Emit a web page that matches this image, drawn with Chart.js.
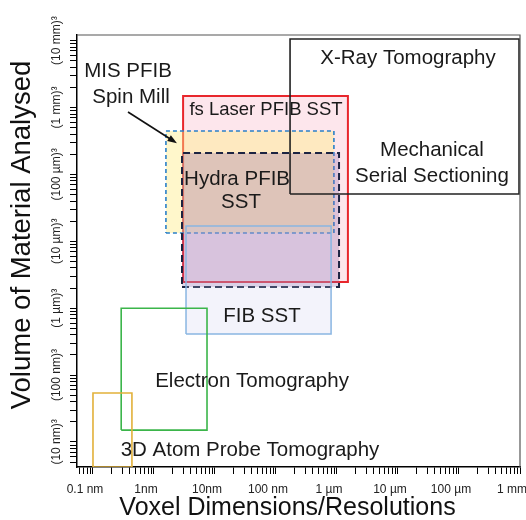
<!DOCTYPE html>
<html>
<head>
<meta charset="utf-8">
<script src="https://cdn.jsdelivr.net/npm/chart.js@4.4.0/dist/chart.umd.min.js"></script>
<style>
  html, body { margin: 0; padding: 0; background: #fff; }
  #wrap { width: 526px; height: 520px; }
</style>
</head>
<body>
<div id="wrap"><canvas id="grafico" width="526" height="520"></canvas></div>
<script>
// --- DATA (voxel size in µm, analysed volume in µm³) ---
const tecnicas  = ['fs Laser PFIB SST', 'MIS PFIB Spin Mill', 'Hydra PFIB SST', 'FIB SST',
                   'Electron Tomography', '3D Atom Probe Tomography', 'X-Ray Tomography / Mechanical Serial Sectioning'];
const voxelMin  = [3.0e-3, 1.57e-3, 2.88e-3, 3.35e-3, 2.9e-4, 1.0e-4, 0.17];
const voxelMax  = [1.51, 0.89, 1.08, 0.80, 7.4e-3, 4.35e-4, 964];
const volumeMin = [15, 2.35e3, 8.9, 0.069, 3.4e-6, 7.52e-8, 1.32e5];
const volumeMax = [3.3e9, 8.9e7, 9.1e6, 4.9e3, 1.0, 1.58e-4, 1.18e12];

// axis ticks
const xTickValues  = [1e-4, 1e-3, 1e-2, 0.1, 1, 10, 100, 1000];
const xTickLabels  = ['0.1 nm', '1nm', '10nm', '100 nm', '1 µm', '10 µm', '100 µm', '1 mm'];
const yTickLengths = [0.01, 0.1, 1, 10, 100, 1000, 10000];   // edge length, µm -> volume = L³
const yTickLabels  = ['(10 nm)³', '(100 nm)³', '(1 µm)³', '(10 µm)³', '(100 µm)³', '(1 mm)³', '(10 mm)³'];

// axis range
const xRange = [5.47e-5, 1000];
const yRange = [7.52e-8, 1.79e12];

// --- STYLES ---
const bordas  = ['#e8262c', '#2a80c8', '#1c2442', '#8ab6e2', '#3bb54a', '#e2b13a', '#222222'];
const fundos  = ['rgba(250,200,212,0.45)', 'rgba(255,236,130,0.42)', 'rgba(140,100,170,0.28)',
                 'rgba(200,200,235,0.22)', null, null, null];
const tracos  = [[], [4, 3], [7, 4], [], [], [], []];
const larguras = [2, 1.6, 2, 1.5, 1.6, 1.6, 1.6];

// text labels, anchored in data coordinates
const rotulos = [
  { t: 'X-Ray Tomography', x: 14.6, y: 1.66e11 },
  { t: 'Mechanical', x: 36, y: 1.25e7 },
  { t: 'Serial Sectioning', x: 36, y: 8.5e5 },
  { t: 'fs Laser PFIB SST', x: 0.0686, y: 7.7e8, small: true },
  { t: 'MIS PFIB', x: 3.75e-4, y: 4.3e10 },
  { t: 'Spin Mill', x: 4.2e-4, y: 3.0e9 },
  { t: 'Hydra PFIB', x: 0.023, y: 6.2e5 },
  { t: 'SST', x: 0.0267, y: 5.8e4 },
  { t: 'FIB SST', x: 0.0589, y: 0.445 },
  { t: 'Electron Tomography', x: 0.0405, y: 5.4e-4 },
  { t: '3D Atom Probe Tomography', x: 0.0375, y: 4.4e-7 }
];
const seta = { de: { x: 3.75e-4, y: 6.3e8 }, para: { x: 2.38e-3, y: 2.5e7 } };

const tituloX = 'Voxel Dimensions/Resolutions';
const tituloY = 'Volume of Material Analysed';

const FONTE = '"Liberation Sans", Arial, sans-serif';

// minor ticks k·10^n for a log axis
function ticksLog(min, max, power) {
  const out = [];
  for (let n = -6; n <= 5; n++) {
    for (let k = 1; k <= 9; k++) {
      const v = Math.pow(k * Math.pow(10, n), power);
      if (v >= min * 0.9999 && v <= max * 1.0001) out.push({ value: v, major: k === 1 });
    }
  }
  return out;
}

const datasets = tecnicas.map((nome, i) => ({
  label: nome,
  data: [
    { x: voxelMin[i], y: volumeMin[i] },
    { x: voxelMax[i], y: volumeMin[i] },
    { x: voxelMax[i], y: volumeMax[i] },
    { x: voxelMin[i], y: volumeMax[i] },
    { x: voxelMin[i], y: volumeMin[i] }
  ],
  showLine: true,
  tension: 0,
  pointRadius: 0,
  borderColor: bordas[i],
  borderWidth: larguras[i],
  borderDash: tracos[i],
  borderJoinStyle: 'miter',
  backgroundColor: fundos[i] || 'transparent',
  fill: fundos[i] ? 'shape' : false,
  order: tecnicas.length - i
}));

const extras = {
  id: 'extras',
  afterDatasetsDraw(chart) {
    const { ctx, scales: { x, y }, chartArea: a } = chart;
    ctx.save();
    // top / right frame
    ctx.strokeStyle = '#555';
    ctx.lineWidth = 1.2;
    ctx.beginPath();
    ctx.moveTo(a.left, a.top);
    ctx.lineTo(a.right, a.top);
    ctx.lineTo(a.right, a.bottom);
    ctx.stroke();

    // arrow
    const x1 = x.getPixelForValue(seta.de.x), y1 = y.getPixelForValue(seta.de.y);
    const x2 = x.getPixelForValue(seta.para.x), y2 = y.getPixelForValue(seta.para.y);
    const ang = Math.atan2(y2 - y1, x2 - x1);
    ctx.strokeStyle = '#111';
    ctx.fillStyle = '#111';
    ctx.lineWidth = 1.6;
    ctx.beginPath();
    ctx.moveTo(x1, y1);
    ctx.lineTo(x2 - 6 * Math.cos(ang), y2 - 6 * Math.sin(ang));
    ctx.stroke();
    ctx.beginPath();
    ctx.moveTo(x2, y2);
    ctx.lineTo(x2 - 10 * Math.cos(ang - 0.35), y2 - 10 * Math.sin(ang - 0.35));
    ctx.lineTo(x2 - 10 * Math.cos(ang + 0.35), y2 - 10 * Math.sin(ang + 0.35));
    ctx.closePath();
    ctx.fill();

    // labels
    ctx.fillStyle = '#1a1a1a';
    ctx.textAlign = 'center';
    ctx.textBaseline = 'middle';
    rotulos.forEach(r => {
      ctx.font = (r.small ? '18.5px ' : '20.5px ') + FONTE;
      ctx.fillText(r.t, x.getPixelForValue(r.x), y.getPixelForValue(r.y));
    });

    // rotated y tick labels
    ctx.font = '12px ' + FONTE;
    ctx.fillStyle = '#222';
    yTickLengths.forEach((L, i) => {
      ctx.save();
      ctx.translate(y.right - 20, y.getPixelForValue(Math.pow(L, 3)));
      ctx.rotate(-Math.PI / 2);
      ctx.fillText(yTickLabels[i], 0, 0);
      ctx.restore();
    });

    // axis titles
    ctx.fillStyle = '#111';
    ctx.font = '25px ' + FONTE;
    ctx.fillText(tituloX, (a.left + a.right) / 2 - 11, 508);
    ctx.save();
    ctx.translate(22, (a.top + a.bottom) / 2 - 16);
    ctx.rotate(-Math.PI / 2);
    ctx.font = '27.5px ' + FONTE;
    ctx.fillText(tituloY, 0, 0);
    ctx.restore();

    ctx.restore();
  }
};

new Chart(document.getElementById('grafico'), {
  type: 'scatter',
  data: { datasets },
  options: {
    responsive: false,
    animation: false,
    devicePixelRatio: 1,
    layout: { padding: { top: 35, right: 6, left: 0, bottom: 0 } },
    plugins: {
      legend: { display: false },
      tooltip: { enabled: false },
      filler: { propagate: false }
    },
    scales: {
      x: {
        type: 'logarithmic',
        min: xRange[0],
        max: xRange[1],
        afterBuildTicks: s => { s.ticks = ticksLog(xRange[0], xRange[1], 1); },
        afterFit: s => { s.height = 53; s.paddingLeft = 0; s.paddingRight = 0; },
        border: { display: true, color: '#000', width: 1.5 },
        grid: { drawOnChartArea: false, drawTicks: true, tickLength: 7, color: '#000' },
        ticks: {
          autoSkip: false,
          maxRotation: 0,
          minRotation: 0,
          labelOffset: -8,
          padding: 8,
          color: '#222',
          font: { family: FONTE, size: 12 },
          callback: v => {
            const i = xTickValues.findIndex(t => Math.abs(Math.log10(t) - Math.log10(v)) < 1e-6);
            return i >= 0 ? xTickLabels[i] : '';
          }
        }
      },
      y: {
        type: 'logarithmic',
        min: yRange[0],
        max: yRange[1],
        afterBuildTicks: s => { s.ticks = ticksLog(yRange[0], yRange[1], 3); },
        afterFit: s => { s.width = 77; s.paddingTop = 0; s.paddingBottom = 0; },
        border: { display: true, color: '#000', width: 1.5 },
        grid: { drawOnChartArea: false, drawTicks: true, tickLength: 7, color: '#000' },
        ticks: { display: false }
      }
    }
  },
  plugins: [extras]
});
</script>
</body>
</html>
